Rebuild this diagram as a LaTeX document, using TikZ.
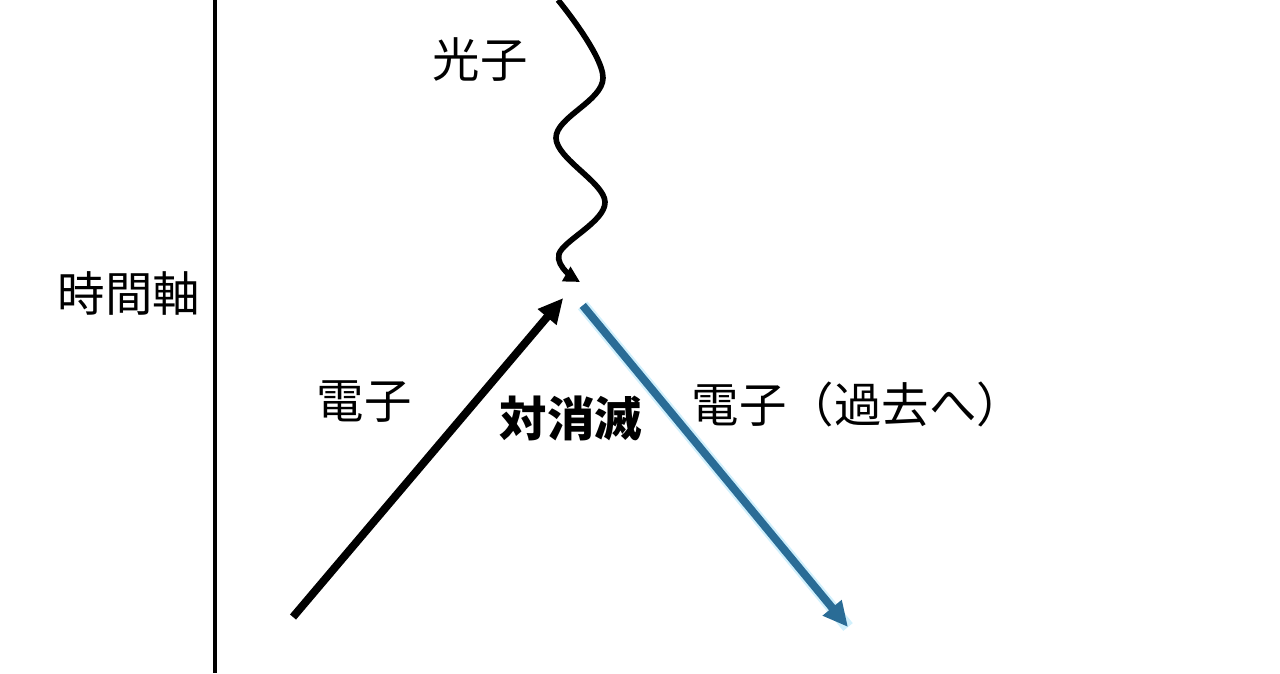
\documentclass[tikz,border=0pt]{standalone}
\usepackage{fontspec}
\newfontfamily\jp{Noto Sans CJK JP}
\usetikzlibrary{arrows.meta, positioning}
\definecolor{pastblue}{RGB}{42,108,150}

\begin{document}
\begin{tikzpicture}[x=0.02cm, y=-0.02cm, font=\jp\fontsize{27}{32}\selectfont,
  tag/.style={inner sep=0pt, anchor=center},
  worldline/.style={line width=4.5pt, -{Triangle[length=0.5cm, width=0.46cm]}},
  ]
\useasboundingbox (0,0) rectangle (1280,673);

% Time axis
\coordinate (axtop) at (215,0);
\coordinate (axbot) at (215,673);
\draw[line width=2.2pt] (axtop) -- (axbot);
\node[tag] (time) at (129,293) {時間軸};

% Annihilation vertex
\coordinate (ann) at (570,290);
\coordinate (ein) at (293,617);
\coordinate (eout) at (848,627);

% Incoming electron
\draw[worldline, shorten >=0.21cm] (ein) -- (ann);
% Electron going to the past
\draw[worldline, pastblue, shorten <=0.4cm,
  preaction={draw, cyan!18, line width=7pt, -}] (ann) -- (eout);

% Photon
\coordinate (ph0) at (558,0);
\coordinate (ph1) at (603,78);
\coordinate (ph2) at (556,138);
\coordinate (ph3) at (605,202);
\coordinate (ph4) at (559,254);
\coordinate (ph5) at (580,282);
\draw[line width=3.2pt, -{Triangle[length=0.32cm, width=0.32cm]}]
  plot[smooth, tension=0.6] coordinates {(ph0) (ph1) (ph2) (ph3) (ph4) (ph5)};

% Labels
\node[tag] (photon) at (480,60) {光子};
\node[tag] (elec) at (364,402) {電子};
\node[tag, font=\jp\bfseries\fontsize{27}{32}\selectfont] (pair) at (571,418) {対消滅};
\node[tag] (past) at (858,404) {電子（過去へ）};
\end{tikzpicture}
\end{document}
